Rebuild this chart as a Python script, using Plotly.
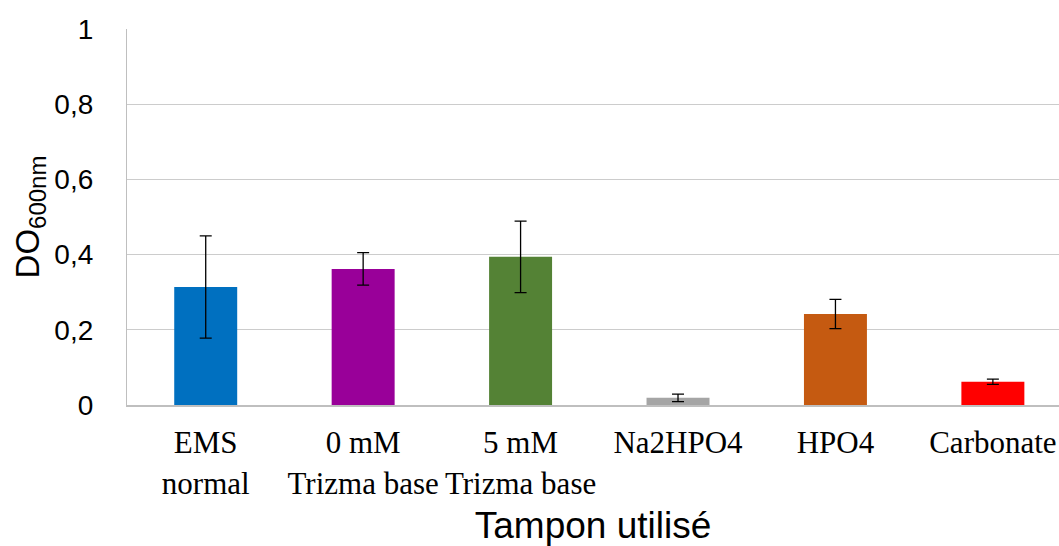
import plotly.graph_objects as go

# Optical density at 600 nm for each buffer tested
categories = ["EMS<br>normal", "0 mM<br>Trizma base", "5 mM<br>Trizma base",
              "Na2HPO4", "HPO4", "Carbonate"]
do600 = [0.314, 0.362, 0.394, 0.019, 0.242, 0.062]
errors = [0.136, 0.043, 0.095, 0.010, 0.039, 0.007]
bar_colors = ["#0070C0", "#990099", "#548235", "#A5A5A5", "#C55A11", "#FF0000"]

y_ticks = [0, 0.2, 0.4, 0.6, 0.8, 1]
y_tick_text = ["0", "0,2", "0,4", "0,6", "0,8", "1"]

fig = go.Figure(
    go.Bar(
        x=list(range(len(categories))),
        y=do600,
        width=0.4,
        marker=dict(color=bar_colors, line=dict(width=0)),
        error_y=dict(type="data", array=errors, visible=True,
                     color="#000000", thickness=1.3, width=6),
    )
)

fig.update_layout(
    width=1059,
    height=546,
    margin=dict(l=127, r=0, t=29, b=141),
    paper_bgcolor="white",
    plot_bgcolor="white",
    showlegend=False,
    xaxis=dict(
        range=[-0.5, 5.42],
        tickmode="array",
        tickvals=list(range(len(categories))),
        ticktext=categories,
        tickfont=dict(family="Liberation Serif", size=31, color="#000000"),
        ticks="",
        showgrid=False,
        showline=True,
        linecolor="#BFBFBF",
        linewidth=2,
        zeroline=False,
        ticklabelstandoff=9,
        title=dict(text="Tampon utilisé", standoff=16,
                   font=dict(family="Liberation Sans", size=37, color="#000000")),
        automargin=False,
    ),
    yaxis=dict(
        range=[0, 1],
        tickmode="array",
        tickvals=y_ticks,
        ticktext=y_tick_text,
        tickfont=dict(family="Liberation Sans", size=28, color="#000000"),
        ticks="",
        showgrid=True,
        gridcolor="#CCCCCC",
        gridwidth=1.3,
        showline=True,
        linecolor="#BFBFBF",
        linewidth=1.3,
        zeroline=False,
        ticklabelstandoff=27,
        title=dict(text="DO<sub><span style='font-size:24px'>600nm</span></sub>",
                   standoff=4,
                   font=dict(family="Liberation Sans", size=33, color="#000000")),
        automargin=False,
    ),
)

fig.write_html("out.html")
